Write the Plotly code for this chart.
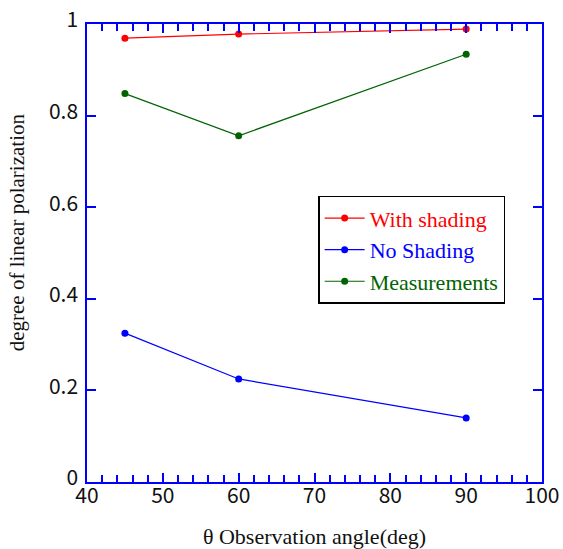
import plotly.graph_objects as go

angles = [45, 60, 90]
with_shading = [0.969, 0.978, 0.989]
no_shading = [0.325, 0.225, 0.140]
measurements = [0.848, 0.756, 0.934]

series = [
    ("With shading", with_shading, "#ff0000"),
    ("No Shading", no_shading, "#0000ff"),
    ("Measurements", measurements, "#006400"),
]

fig = go.Figure()
for name, vals, col in series:
    fig.add_trace(go.Scatter(
        x=angles, y=vals, mode="lines+markers",
        name=f"<span style='color:{col}'>{name}</span>",
        line=dict(color=col, width=1.2),
        marker=dict(color=col, size=7),
    ))

axis_common = dict(
    showline=True, linecolor="#0000ff", linewidth=1.5,
    mirror="allticks", ticks="inside", tickcolor="#0000ff",
    showgrid=False, zeroline=False, automargin=False,
    tickfont=dict(family="Noto Sans CJK JP", size=21, color="#111111"),
)

fig.update_xaxes(
    range=[40, 100], dtick=10, ticklen=9, tickwidth=1.5,
    ticklabelstandoff=-6,
    minor=dict(dtick=2, ticklen=7, ticks="inside", tickcolor="#0000ff", tickwidth=1.5),
    title=dict(text="θ Observation angle(deg)", font=dict(family="Times New Roman, Liberation Serif", size=22, color="#111111"), standoff=24),
    **axis_common,
)
fig.update_yaxes(
    range=[0, 1], dtick=0.2, ticklen=9, tickwidth=1.5,
    ticklabelstandoff=3, ticklabelshift=-4,
    **axis_common,
)

fig.add_annotation(
    text="degree of linear polarization", textangle=-90,
    xref="paper", yref="paper", x=-0.153, y=0.546,
    xanchor="center", yanchor="middle", showarrow=False,
    font=dict(family="Times New Roman, Liberation Serif", size=21, color="#111111"),
)

fig.update_layout(
    width=563, height=549,
    margin=dict(l=87, r=21, t=24, b=67),
    plot_bgcolor="white", paper_bgcolor="white",
    legend=dict(
        x=0.508, y=0.625, xanchor="left", yanchor="top",
        bordercolor="black", borderwidth=1.5, bgcolor="white",
        font=dict(family="Times New Roman, Liberation Serif", size=22),
        tracegroupgap=0, itemwidth=40,
    ),
)

fig.write_html("out.html")
